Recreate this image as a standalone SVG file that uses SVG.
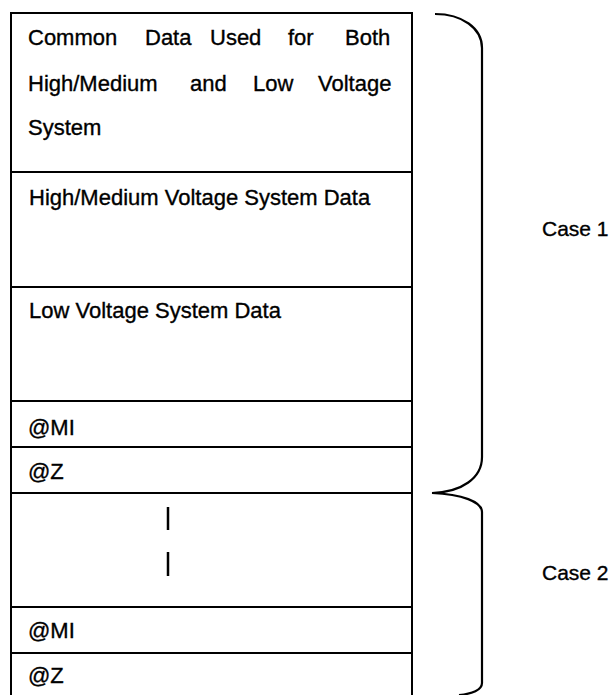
<svg xmlns="http://www.w3.org/2000/svg" width="613" height="695" viewBox="0 0 613 695">
<style>
.t{font-family:"Liberation Sans",Arial,sans-serif;font-size:22px;fill:#000;stroke:#000;stroke-width:0.35}
.c{font-family:"Liberation Sans",Arial,sans-serif;font-size:21px;fill:#000;stroke:#000;stroke-width:0.35}
.ln{stroke:#000;stroke-width:2;fill:none}
.br{stroke:#000;stroke-width:2.2;fill:none}
</style>
<rect x="0" y="0" width="613" height="695" fill="#fff"/>
<g id="box">
<rect class="ln" x="11" y="13" width="401" height="700"/>
</g>
<g id="common">
<line class="ln" x1="11" y1="172" x2="412" y2="172"/>
<text class="t" y="45"><tspan x="28">Common</tspan><tspan x="145">Data</tspan><tspan x="210">Used</tspan><tspan x="288">for</tspan><tspan x="345">Both</tspan></text>
<text class="t" y="91"><tspan x="28">High/Medium</tspan><tspan x="190">and</tspan><tspan x="253">Low</tspan><tspan x="318">Voltage</tspan></text>
<text class="t" x="28" y="135">System</text>
</g>
<g id="hm">
<line class="ln" x1="11" y1="287" x2="412" y2="287"/>
<text class="t" x="29" y="205">High/Medium Voltage System Data</text>
</g>
<g id="lv">
<line class="ln" x1="11" y1="401" x2="412" y2="401"/>
<text class="t" x="29" y="318">Low Voltage System Data</text>
</g>
<g id="mi1">
<line class="ln" x1="11" y1="447" x2="412" y2="447"/>
<text class="t" x="28" y="435">@MI</text>
</g>
<g id="z1">
<line class="ln" x1="11" y1="493" x2="412" y2="493"/>
<text class="t" x="28" y="479">@Z</text>
</g>
<g id="gap">
<line class="ln" x1="11" y1="607" x2="412" y2="607"/>
<line stroke="#000" stroke-width="2.5" x1="168" y1="507" x2="168" y2="530"/>
<line stroke="#000" stroke-width="2.5" x1="168" y1="552" x2="168" y2="576"/>
</g>
<g id="mi2">
<line class="ln" x1="11" y1="653" x2="412" y2="653"/>
<text class="t" x="28" y="638">@MI</text>
</g>
<g id="z2">
<text class="t" x="28" y="683">@Z</text>
</g>
<g id="connectors">
<path class="br" d="M435 14 C462 14 482 28 482 48 L482 457 C482 478 462 492 432 493 C462 494 482 502 482 512 L482 683 C482 690 472 694 459 695"/>
</g>
<g id="case1"><text class="c" x="542" y="236">Case 1</text></g>
<g id="case2"><text class="c" x="542" y="580">Case 2</text></g>
</svg>
